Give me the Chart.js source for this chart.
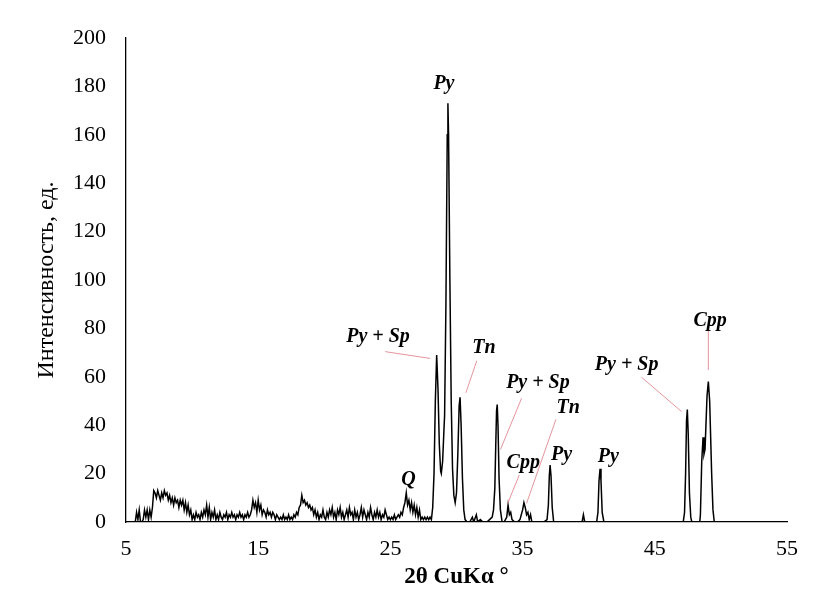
<!DOCTYPE html>
<html>
<head>
<meta charset="utf-8">
<script src="https://cdn.jsdelivr.net/npm/chart.js"></script>
<style>
html,body{margin:0;padding:0;background:#fff;}
#wrap{width:829px;height:608px;}
</style>
</head>
<body>
<div id="wrap"><canvas id="c" width="829" height="608"></canvas></div>
<script>
// ---- Data ----
// background / low-angle region (2θ, degrees)
const bgTheta = [
5.0,5.1,5.2,5.3,5.4,5.5,5.6,5.7,5.8,5.9,
6.0,6.1,6.2,6.3,6.4,6.5,6.6,6.7,6.8,6.9,
7.0,7.1,7.2,7.3,7.4,7.5,7.6,7.7,7.8,7.9,
8.0,8.1,8.2,8.3,8.4,8.5,8.6,8.7,8.8,8.9,
9.0,9.1,9.2,9.3,9.4,9.5,9.6,9.7,9.8,9.9,
10.0,10.1,10.2,10.3,10.4,10.5,10.6,10.7,10.8,10.9,
11.0,11.1,11.2,11.3,11.4,11.5,11.6,11.7,11.8,11.9,
12.0,12.1,12.2,12.3,12.4,12.5,12.6,12.7,12.8,12.9,
13.0,13.1,13.2,13.3,13.4,13.5,13.6,13.7,13.8,13.9,
14.0,14.1,14.2,14.3,14.4,14.5,14.6,14.7,14.8,14.9,
15.0,15.1,15.2,15.3,15.4,15.5,15.6,15.7,15.8,15.9,
16.0,16.1,16.2,16.3,16.4,16.5,16.6,16.7,16.8,16.9,
17.0,17.1,17.2,17.3,17.4,17.5,17.6,17.7,17.8,17.9,
18.0,18.1,18.2,18.3,18.4,18.5,18.6,18.7,18.8,18.9,
19.0,19.1,19.2,19.3,19.4,19.5,19.6,19.7,19.8,19.9,
20.0,20.1,20.2,20.3,20.4,20.5,20.6,20.7,20.8,20.9,
21.0,21.1,21.2,21.3,21.4,21.5,21.6,21.7,21.8,21.9,
22.0,22.1,22.2,22.3,22.4,22.5,22.6,22.7,22.8,22.9,
23.0,23.1,23.2,23.3,23.4,23.5,23.6,23.7,23.8,23.9,
24.0,24.1,24.2,24.3,24.4,24.5,24.6,24.7,24.8,24.9,
25.0,25.1,25.2,25.3,25.4,25.5,25.6,25.7,25.8,25.9,
26.0,26.1,26.2,26.3,26.4,26.5,26.6,26.7,26.8,26.9,
27.0,27.1,27.2,27.3,27.4,27.5,27.6,27.7,27.8,27.9,
28.0,28.1
];
const bgIntensity = [
0,0,0,0,0,0,0,0,4,1,
5,0,0,1,5,2,5,1,5,2,
6,13,12,10,13,11,9,12,10,13,
11,12,9,11,8,10,7,10,8,9,
6,9,7,9,5,8,4,7,3,5,
1,3,1,4,2,3,1,4,2,5,
3,7,2,6,1,4,2,5,1,3,
1,4,2,1,3,2,4,1,3,2,
4,2,3,1,3,2,4,2,3,1,
3,2,4,2,3,5,9,6,8,4,
9,5,7,3,5,4,2,5,3,4,
2,4,3,1,3,2,1,2,1,3,
1,2,1,3,1,2,1,3,2,4,
3,6,7,11,8,9,7,8,6,7,
5,6,3,5,2,4,1,3,2,5,
2,1,4,2,5,3,6,2,4,1,
5,3,6,2,4,1,3,5,2,6,
3,4,1,5,2,4,1,3,6,2,
5,3,1,4,2,6,3,1,4,2,
5,2,4,1,3,2,5,3,1,2,
1,2,1,3,1,2,3,2,4,3,
6,8,12,7,9,5,8,4,7,3,
6,2,5,1,2,1,2,1,2,1,
2,1
];
// reflection region
const peakTheta = [
28.2,28.3,28.4,28.5,28.6,28.7,28.8,28.85,28.95,29.05,29.1,29.2,29.3,29.35,29.4,29.5,29.6,29.7,29.8,29.9,
30.0,30.1,30.2,30.27,30.35,30.45,30.55,30.65,30.8,31.0,31.2,31.3,31.5,31.6,31.8,32.0,32.3,32.5,32.7,32.8,
32.9,32.97,33.03,33.08,33.14,33.22,33.32,33.45,33.6,33.8,33.9,34.0,34.1,34.2,34.4,34.6,34.8,34.9,35.0,35.1,35.2,
35.3,35.4,35.5,35.6,35.7,36.0,36.6,36.85,36.95,37.02,37.08,37.15,37.24,37.35,39.5,39.6,39.7,40.6,40.7,40.78,
40.86,40.93,41.02,41.15,47.15,47.25,47.33,47.4,47.46,47.53,47.62,47.72,47.8,48.4,48.45,48.55,48.65,48.72,48.8,48.95,49.05,
49.15,49.3,49.4,49.5,55.0
];
const peakIntensity = [
6,20,50,69,55,32,21,20,25,38,44,90,160,173,160,100,50,22,11,8,
12,28,48,51.5,40,18,5,1,0,0,2,0,3,0,1,0,0,1,2,5,
14,32,46,48.5,40,18,5,0,0,2,7,3,4,1,0,0,1,3,5,8,6,
3,4,1,3,0,0,0,1,7,19,23.5,19,6,0,0,3,0,0,4,17,
22,17,4,0,0,4,20,42,46.5,36,12,2,0,0,3,25,35,28,30,52,58,
50,20,5,0,0
];
const xTicks = [5, 15, 25, 35, 45, 55];
const yTicks = [0, 20, 40, 60, 80, 100, 120, 140, 160, 180, 200];

// phase labels (text, anchor in data units) and leader lines (data units)
const phaseLabels = [
  {text: 'Py',      x: 29.05, y: 181},
  {text: 'Py + Sp', x: 24.06, y: 76.4},
  {text: 'Tn',      x: 32.08, y: 71.9},
  {text: 'Py + Sp', x: 36.16, y: 57.4},
  {text: 'Cpp',     x: 35.05, y: 24.3},
  {text: 'Tn',      x: 38.45, y: 47},
  {text: 'Py',      x: 37.95, y: 27.7},
  {text: 'Py',      x: 41.48, y: 27},
  {text: 'Py + Sp', x: 42.87, y: 64.9},
  {text: 'Cpp',     x: 49.18, y: 83.2},
  {text: 'Q',       x: 26.36, y: 17.4}
];
const leaderLines = [
  [24.6, 70.4, 28.0, 67.6],
  [31.53, 66.6, 30.71, 53.4],
  [34.92, 51.1, 33.33, 30.0],
  [34.75, 19.4, 33.87, 7.7],
  [37.52, 42.4, 35.3, 7.7],
  [44.0, 59.8, 47.03, 45.6],
  [49.05, 80, 49.05, 62.8]
];

const points = [];
bgTheta.forEach((t, i) => points.push({x: t, y: bgIntensity[i]}));
peakTheta.forEach((t, i) => points.push({x: t, y: peakIntensity[i]}));

const SERIF = '"Liberation Serif", "Times New Roman", serif';

const annotate = {
  id: 'annotate',
  afterDatasetsDraw(chart) {
    const ctx = chart.ctx, xs = chart.scales.x, ys = chart.scales.y;
    ctx.save();
    ctx.strokeStyle = 'rgba(222,130,140,0.85)';
    ctx.lineWidth = 1;
    leaderLines.forEach(l => {
      ctx.beginPath();
      ctx.moveTo(xs.getPixelForValue(l[0]), ys.getPixelForValue(l[1]));
      ctx.lineTo(xs.getPixelForValue(l[2]), ys.getPixelForValue(l[3]));
      ctx.stroke();
    });
    ctx.fillStyle = '#000';
    ctx.font = 'italic bold 20px ' + SERIF;
    ctx.textAlign = 'center';
    ctx.textBaseline = 'middle';
    phaseLabels.forEach(p => {
      ctx.fillText(p.text, xs.getPixelForValue(p.x), ys.getPixelForValue(p.y));
    });
    ctx.restore();
  }
};

new Chart(document.getElementById('c'), {
  type: 'line',
  data: {
    datasets: [{
      data: points,
      borderColor: '#000',
      borderWidth: 1.5,
      pointRadius: 0,
      tension: 0,
      fill: false
    }]
  },
  options: {
    responsive: false,
    animation: false,
    layout: {padding: {top: 38, right: 42, bottom: 0, left: 0}},
    plugins: {legend: {display: false}, tooltip: {enabled: false}},
    scales: {
      x: {
        type: 'linear',
        min: 5, max: 55,
        afterBuildTicks(s) { s.ticks = xTicks.map(v => ({value: v})); },
        afterFit(s) { s.height = 86; },
        grid: {display: false, drawTicks: false},
        border: {display: true, color: '#000', width: 1.3},
        ticks: {color: '#000', padding: 14, font: {family: SERIF, size: 22}, autoSkip: false, maxRotation: 0},
        title: {display: true, text: '2θ CuKα °', color: '#000', padding: {top: 0, bottom: 17},
                font: {family: SERIF, size: 23, weight: 'bold'}}
      },
      y: {
        min: 0, max: 200,
        afterBuildTicks(s) { s.ticks = yTicks.map(v => ({value: v})); },
        afterFit(s) { s.width = 126; },
        grid: {display: false, drawTicks: false},
        border: {display: true, color: '#000', width: 1.3},
        ticks: {color: '#000', padding: 20, font: {family: SERIF, size: 22}},
        title: {display: true, text: 'Интенсивность, ед.', color: '#000', padding: {top: 32, bottom: 0},
                font: {family: SERIF, size: 24}}
      }
    }
  },
  plugins: [annotate]
});
</script>
</body>
</html>
